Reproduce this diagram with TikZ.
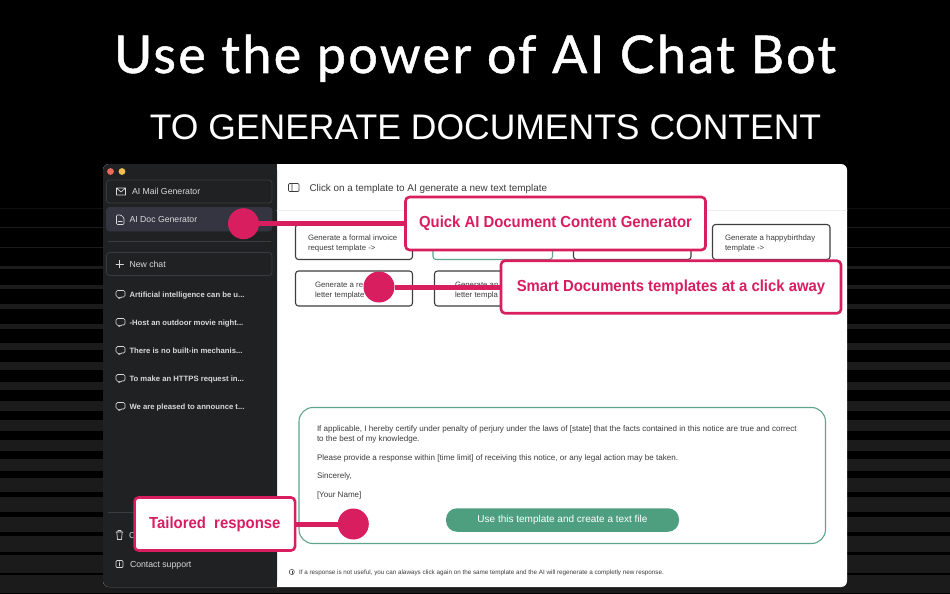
\documentclass[tikz,border=0pt]{standalone}
\usepackage{fontspec}
\setmainfont{Liberation Sans}
\newfontfamily\titlefont[LetterSpace=4.5,FakeBold=1]{Lato}
\newfontfamily\calloutfont[FakeStretch=.93]{Liberation Sans Bold}
\begin{document}
\begin{tikzpicture}[x=1pt,y=-1pt,line cap=round,line join=round,
  every node/.style={inner sep=0pt,outer sep=0pt},
  txt/.style={anchor=base west,text=#1},
  txt/.default=black,
  side/.style={txt=sidetext,font=\fontsize{8.7}{8.7}\selectfont},
  chat/.style={txt=sidetext,font=\fontsize{7.7}{7.7}\selectfont\bfseries},
  card/.style={draw=cardline,line width=1.1pt,rounded corners=3pt,fill=white},
  cardtext/.style={txt=bodytext,font=\fontsize{7.8}{7.8}\selectfont},
  bodyline/.style={txt=bodytext,font=\fontsize{8.05}{8.05}\selectfont},
  sidebox/.style={draw=sideline,line width=.8pt,rounded corners=3pt},
  callout/.style={draw=hot,fill=white,line width=2.6pt,rounded corners=4pt,text=hot,font=\calloutfont\fontsize{16}{16}\selectfont},
  dot/.style={circle,fill=hot,minimum size=31pt},
  conn/.style={draw=hot,line width=5pt,line cap=butt},
  sideicon/.style={draw=sidetext,line width=.7pt},
  mainicon/.style={draw=bodytext,line width=.7pt},
  chaticon/.pic={\draw[sideicon,rounded corners=1.5pt] (-4.5,-4) -- (4.5,-4) -- (4.5,2.5) -- (0,2.5) -- (-1.5,4.5) -- (-1.5,2.5) -- (-4.5,2.5) -- cycle;},
]
\definecolor{stripe}{HTML}{1B1B1B}
\definecolor{sidebg}{HTML}{202123}
\definecolor{sideline}{HTML}{3A3B3E}
\definecolor{sidetext}{HTML}{D9D9DB}
\definecolor{activebg}{HTML}{343541}
\definecolor{hot}{HTML}{D81E5F}
\definecolor{cardline}{HTML}{3E3E40}
\definecolor{bodytext}{HTML}{3C3C3E}
\definecolor{tgreen}{HTML}{5FA58C}
\definecolor{bgreen}{HTML}{4E9F80}
\useasboundingbox (0,0) rectangle (950,594);
\fill[black] (0,0) rectangle (950,594);
% background stripes
\foreach \i in {1,...,19}{
  \pgfmathsetmacro{\yc}{207.9+19.78*\i}
  \pgfmathsetmacro{\hh}{0.48*\i}
  \fill[stripe] (0,\yc-\hh) rectangle (950,\yc+\hh);
}
\fill[stripe!60!black] (0,207.5) rectangle (950,208.5);
% headings
\node[anchor=base,text=white,font=\titlefont\fontsize{52}{52}\selectfont] (title) at (475,73) {Use the power of AI Chat Bot};
\node[anchor=base,text=white,font=\fontsize{35.5}{35.5}\selectfont] (subtitle) at (485.5,139) {TO GENERATE DOCUMENTS CONTENT};
% window
\fill[white,rounded corners=6pt] (103,164) rectangle (847,587);
\fill[sidebg,rounded corners=6pt] (103,164) -- (277,164) -- (277,587) -- (103,587) -- cycle;
\fill[sidebg] (200,164) rectangle (277,587);
\fill[color={rgb,255:red,236;green,106;blue,94}] (110.5,171.5) circle (3.4);
\fill[color={rgb,255:red,245;green,190;blue,80}] (122,171.5) circle (3.4);
% sidebar
\draw[sidebox] (106.5,180) rectangle (272,203);
\draw[sideicon] (116.5,188) rectangle (125.5,195) (116.5,188) -- (121,192) -- (125.5,188);
\node[side] (mail) at (132,194.8) {AI Mail Generator};
\draw[sidebox,fill=activebg,draw=activebg] (106.5,207.5) rectangle (272,231);
\draw[sideicon,rounded corners=1pt] (116.5,215) -- (121,215) -- (124,218) -- (124,224.5) -- (116.5,224.5) -- cycle;
\draw[sideicon] (118.2,221) -- (122.2,221);
\node[side] (doc) at (129.5,222.8) {AI Doc Generator};
\draw[sideline,line width=.8pt] (108,241.5) -- (271,241.5);
\draw[sidebox] (106.5,252.5) rectangle (272,275.5);
\draw[sideicon] (116,264) -- (123.5,264) (119.75,260.2) -- (119.75,267.8);
\node[side] (newchat) at (129.5,267.3) {New chat};
\foreach \y in {294.5,322.5,350.5,378.5,406.5} \pic at (120.5,\y) {chaticon};
\node[chat] (c1) at (129.5,297.8) {Artificial intelligence can be u...};
\node[chat] (c2) at (129.5,325.8) {-Host an outdoor movie night...};
\node[chat] (c3) at (129.5,353.8) {There is no built-in mechanis...};
\node[chat] (c4) at (129.5,381.8) {To make an HTTPS request in...};
\node[chat] (c5) at (129.5,409.8) {We are pleased to announce t...};
\draw[sideline,line width=.8pt] (108,512.5) -- (271,512.5);
\draw[sideicon] (116,532) -- (123,532) (118,532) -- (118,530.5) -- (121,530.5) -- (121,532) (116.8,532) -- (117.5,539.5) -- (121.5,539.5) -- (122.2,532);
\node[side] (clear) at (129,538.3) {C};
\draw[sideicon,rounded corners=1pt] (116,560.5) rectangle (123,567.5);
\draw[sideicon] (119.5,563) -- (119.5,566) (119.5,561.8) -- (119.5,562);
\node[side] (support) at (130,567.3) {Contact support};
% main header
\draw[mainicon,rounded corners=1pt] (288.5,183.5) rectangle (299,191.5) (292,183.5) -- (292,191.5);
\node[txt=bodytext,font=\fontsize{9.9}{9.9}\selectfont] (head) at (309.5,191) {Click on a template to AI generate a new text template};
\draw[black!7,line width=.8pt] (277,210.5) -- (847,210.5);
% cards
\draw[card] (295.5,224.5) rectangle (412.5,259.5);
\draw[card,draw=tgreen] (433,224.5) rectangle (552.5,259.5);
\draw[card] (573.5,224.5) rectangle (691,259.5);
\draw[card] (712.5,224.5) rectangle (830,259.5);
\draw[card] (295.5,271) rectangle (412.5,306);
\draw[card] (434.5,271) rectangle (552,306);
\node[cardtext] (t1a) at (308,240.5) {Generate a formal invoice};
\node[cardtext] (t1b) at (308,250) {request template ->};
\node[cardtext] (t4a) at (725,240.5) {Generate a happybirthday};
\node[cardtext] (t4b) at (725,250) {template ->};
\node[cardtext] (t5a) at (315,287) {Generate a re};
\node[cardtext] (t5b) at (315,297) {letter template};
\node[cardtext] (t6a) at (455,287) {Generate an};
\node[cardtext] (t6b) at (455,297) {letter templa};
% response box
\draw[draw=tgreen,line width=1.1pt,rounded corners=14pt] (299,407.5) rectangle (825.5,543.5);
\node[bodyline] (r1) at (317,431.7) {If applicable, I hereby certify under penalty of perjury under the laws of [state] that the facts contained in this notice are true and correct};
\node[bodyline] (r2) at (317,441) {to the best of my knowledge.};
\node[bodyline] (r3) at (317,460) {Please provide a response within [time limit] of receiving this notice, or any legal action may be taken.};
\node[bodyline] (r4) at (317,478.5) {Sincerely,};
\node[bodyline] (r5) at (317,497) {[Your Name]};
\node[fill=bgreen,rounded corners=11pt,minimum width=233pt,minimum height=23.5pt,text=white,font=\fontsize{10}{10}\selectfont] (use) at (562.5,520) {\raisebox{-.5pt}{Use this template and create a text file}};
\draw[mainicon,line width=.5pt] (291.8,572) circle (2.6);
\draw[mainicon,line width=.5pt] (291.8,571) -- (291.8,573.5);
\node[txt=bodytext,font=\fontsize{6.3}{6.3}\selectfont] (note) at (299,574) {If a response is not useful, you can alaways click again on the same template and the AI will regenerate a completly new response.};
% callouts
\node[dot] (d1) at (243.5,223.7) {};
\node[dot] (d2) at (379,287) {};
\node[dot] (d3) at (353.3,524) {};
\node[callout,minimum width=300pt,minimum height=53pt] (k1) at (555.5,223.5) {\raisebox{-1.5pt}{Quick AI Document Content Generator}};
\node[callout,minimum width=340pt,minimum height=52.5pt] (k2) at (671,287) {\raisebox{-1pt}{Smart Documents templates at a click away}};
\node[callout,minimum width=160.5pt,minimum height=53pt] (k3) at (214.8,524) {\raisebox{-1pt}{Tailored\ \ response}};
\draw[conn] (d1.east) -- (d1.east -| k1.west);
\draw[conn] (d2.east) -- (d2.east -| k2.west);
\draw[conn] (d3.west) -- (d3.west -| k3.east);
\end{tikzpicture}
\end{document}
